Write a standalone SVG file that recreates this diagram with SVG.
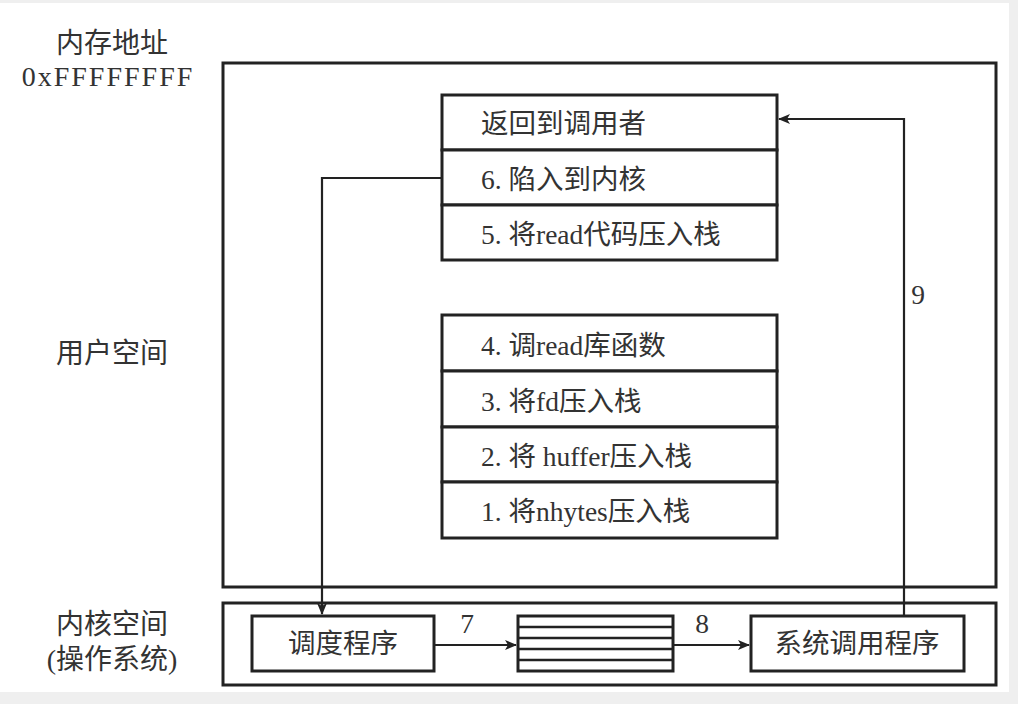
<svg xmlns="http://www.w3.org/2000/svg" width="1018" height="704" viewBox="0 0 1018 704">
<style>
.box{fill:#fff;stroke:#222;stroke-width:3}
.frame{fill:none;stroke:#222;stroke-width:3}
.t{font-family:"Liberation Serif","Noto Sans CJK SC",serif;font-size:27.5px;fill:#333}
.lbl{font-family:"Liberation Serif","Noto Sans CJK SC",serif;font-size:28px;fill:#333;text-anchor:middle}
.c{fill:none;stroke:#222;stroke-width:2.2}
.q{stroke:#222;stroke-width:2.5}
</style>
<defs>
<marker id="ah" viewBox="0 0 12 10" refX="11" refY="5" markerWidth="12" markerHeight="10" markerUnits="userSpaceOnUse" orient="auto">
<path d="M0,0 L12,5 L0,10 L3,5 Z" fill="#222"/>
</marker>
</defs>
<rect x="0" y="0" width="1018" height="704" fill="#efefef"/>
<rect x="0" y="3" width="1009" height="689" fill="#fff"/>

<g id="labels">
<text class="lbl" x="112" y="53">内存地址</text>
<text class="lbl" x="108" y="86" letter-spacing="2">0xFFFFFFFF</text>
<text class="lbl" x="112" y="363">用户空间</text>
<text class="lbl" x="112" y="634">内核空间</text>
<text class="lbl" x="112" y="669">(操作系统)</text>
</g>

<g id="user-space"><rect class="frame" x="223" y="63" width="773" height="524"/></g>
<g id="kernel-space"><rect class="frame" x="223" y="603" width="773" height="82"/></g>

<g id="stack-top">
<rect class="box" x="442" y="95" width="335" height="55"/>
<text class="t" x="481" y="133">返回到调用者</text>
<rect class="box" x="442" y="150" width="335" height="55"/>
<text class="t" x="481" y="189">6. 陷入到内核</text>
<rect class="box" x="442" y="205" width="335" height="55"/>
<text class="t" x="481" y="244">5. 将read代码压入栈</text>
</g>

<g id="stack-bottom">
<rect class="box" x="442" y="315" width="335" height="56"/>
<text class="t" x="481" y="355">4. 调read库函数</text>
<rect class="box" x="442" y="371" width="335" height="56"/>
<text class="t" x="481" y="411">3. 将fd压入栈</text>
<rect class="box" x="442" y="427" width="335" height="55"/>
<text class="t" x="481" y="466">2. 将 huffer压入栈</text>
<rect class="box" x="442" y="482" width="335" height="56"/>
<text class="t" x="481" y="521">1. 将nhytes压入栈</text>
</g>

<g id="dispatcher">
<rect class="box" x="252" y="616" width="182" height="55"/>
<text class="t" x="343" y="653" text-anchor="middle">调度程序</text>
</g>

<g id="queue">
<rect class="box" x="518" y="616" width="155" height="55"/>
<line class="q" x1="518" y1="627" x2="673" y2="627"/>
<line class="q" x1="518" y1="638" x2="673" y2="638"/>
<line class="q" x1="518" y1="649" x2="673" y2="649"/>
<line class="q" x1="518" y1="660" x2="673" y2="660"/>
</g>

<g id="syscall-handler">
<rect class="box" x="751" y="616" width="213" height="55"/>
<text class="t" x="857" y="653" text-anchor="middle">系统调用程序</text>
</g>

<g id="connectors">
<polyline class="c" points="442,178 322,178 322,614" marker-end="url(#ah)"/>
<line class="c" x1="434" y1="645" x2="516" y2="645" marker-end="url(#ah)"/>
<line class="c" x1="673" y1="645" x2="749" y2="645" marker-end="url(#ah)"/>
<polyline class="c" points="904,616 904,119 779,119" marker-end="url(#ah)"/>
<text class="t" x="467" y="633" text-anchor="middle">7</text>
<text class="t" x="702" y="633" text-anchor="middle">8</text>
<text class="t" x="918" y="304" text-anchor="middle">9</text>
</g>
</svg>
